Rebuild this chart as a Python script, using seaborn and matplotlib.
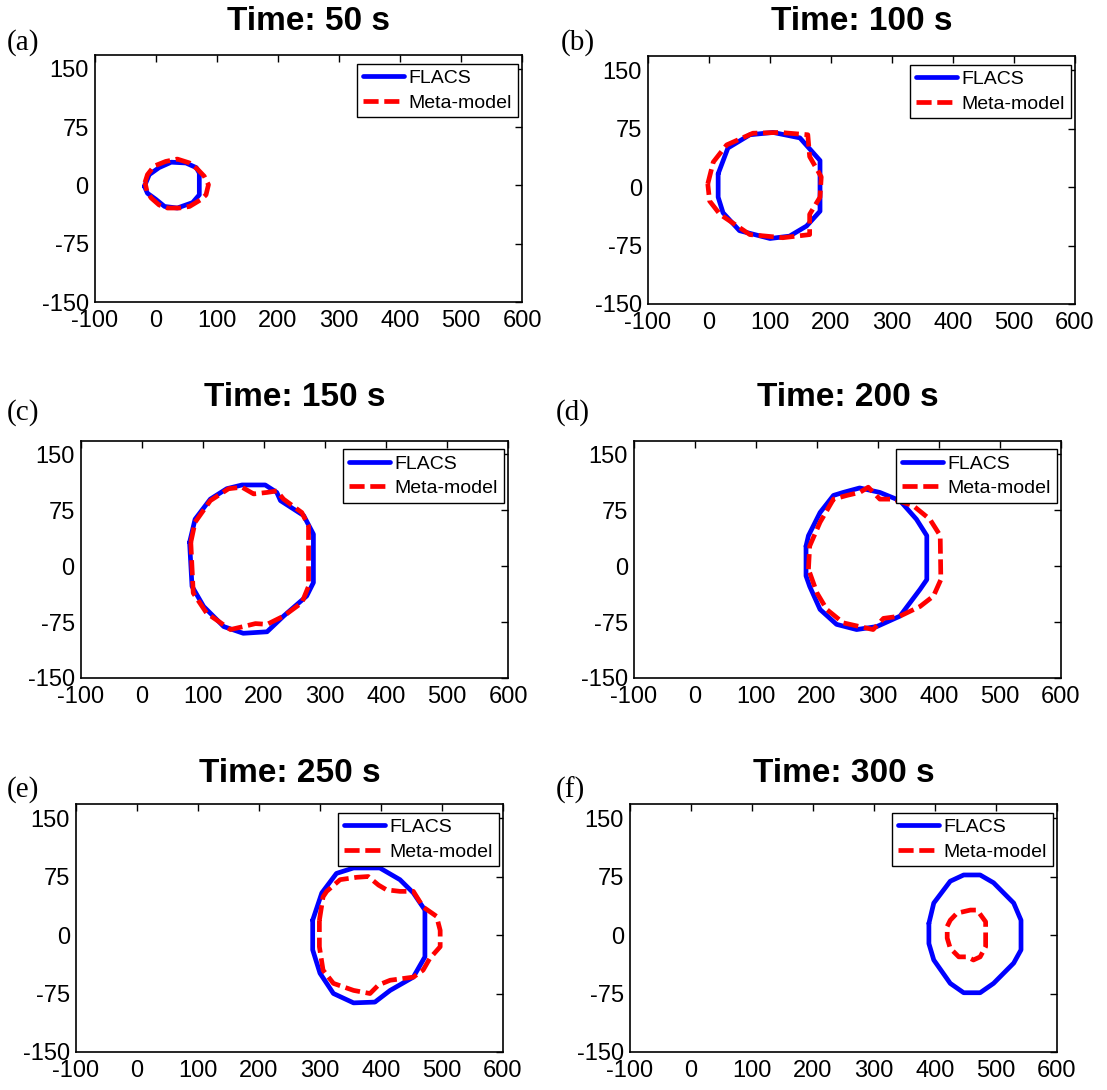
import matplotlib
matplotlib.use("Agg")
import matplotlib.pyplot as plt
import pandas as pd
import seaborn as sns

# ---- plume outlines at each time step (x, y in m) ----
TIMES = [50, 100, 150, 200, 250, 300]
TAGS = ["(a)", "(b)", "(c)", "(d)", "(e)", "(f)"]
SERIES = ["FLACS", "Meta-model"]

FLACS_50_X = [-19, -11, 5, 25, 49, 66, 71, 71, 60, 35, 14, 0, -14]
FLACS_50_Y = [-1, 14, 23, 30, 29, 23, 16, -12, -22, -29, -27, -18, -10]
META_50_X = [-18, -14, -3, 16, 35, 55, 68, 79, 86, 82, 74, 55, 38, 19, 5, -8, -15]
META_50_Y = [4, 14, 25, 31, 34, 29, 21, 12, 1, -12, -18, -27, -29, -29, -25, -16, -7]

FLACS_100_X = [15, 31, 67, 105, 149, 182, 182, 160, 132, 100, 50, 23, 15]
FLACS_100_Y = [17, 50, 67, 70, 63, 34, -31, -50, -63, -66, -56, -33, -13]
META_100_X = [-2, 7, 29, 72, 116, 162, 165, 184, 182, 165, 165, 121, 67, 18, 1]
META_100_Y = [4, 32, 54, 69, 70, 67, 39, 13, -13, -35, -61, -65, -61, -35, -18]

FLACS_150_X = [78, 87, 112, 139, 164, 202, 221, 227, 265, 281, 281, 270, 232, 205, 166, 134, 101, 82]
FLACS_150_Y = [32, 63, 90, 104, 109, 109, 99, 88, 68, 43, -22, -40, -67, -88, -90, -81, -54, -27]
META_150_X = [80, 87, 112, 142, 164, 183, 205, 221, 232, 262, 273, 273, 262, 232, 205, 186, 166, 145, 106, 84]
META_150_Y = [32, 59, 88, 104, 106, 97, 99, 101, 90, 72, 54, -27, -49, -67, -78, -77, -81, -85, -63, -36]

FLACS_200_X = [182, 186, 205, 227, 243, 270, 303, 336, 363, 380, 380, 369, 336, 298, 265, 232, 205, 188, 182]
FLACS_200_Y = [27, 41, 72, 95, 99, 105, 99, 88, 63, 41, -18, -31, -67, -81, -85, -78, -58, -27, -13]
META_200_X = [186, 188, 205, 227, 249, 270, 284, 303, 325, 358, 385, 402, 403, 391, 369, 336, 309, 292, 270, 243, 216, 200]
META_200_Y = [-4, 27, 59, 90, 95, 99, 106, 90, 90, 81, 63, 41, -18, -40, -54, -67, -70, -85, -81, -76, -58, -36]

FLACS_250_X = [288, 303, 327, 355, 398, 431, 453, 472, 472, 453, 415, 390, 355, 322, 300, 288]
FLACS_250_Y = [19, 54, 79, 86, 86, 71, 54, 32, -28, -54, -71, -86, -87, -75, -49, -19]
META_250_X = [299, 305, 311, 333, 360, 379, 396, 409, 431, 453, 469, 491, 497, 497, 480, 469, 453, 415, 396, 382, 355, 322, 305, 299]
META_250_Y = [19, 49, 56, 71, 74, 75, 64, 58, 56, 56, 36, 24, 6, -15, -30, -45, -54, -58, -64, -75, -71, -62, -45, -15]

FLACS_300_X = [390, 398, 425, 447, 474, 496, 529, 541, 541, 529, 496, 474, 447, 425, 398, 390]
FLACS_300_Y = [15, 41, 69, 77, 77, 67, 41, 19, -19, -36, -62, -74, -74, -62, -32, -11]
META_300_X = [420, 425, 436, 458, 469, 483, 483, 474, 463, 453, 439, 425, 420]
META_300_Y = [11, 19, 28, 32, 32, 17, -15, -28, -32, -28, -28, -17, -4]

OUTLINES = {
    50: (FLACS_50_X, FLACS_50_Y, META_50_X, META_50_Y),
    100: (FLACS_100_X, FLACS_100_Y, META_100_X, META_100_Y),
    150: (FLACS_150_X, FLACS_150_Y, META_150_X, META_150_Y),
    200: (FLACS_200_X, FLACS_200_Y, META_200_X, META_200_Y),
    250: (FLACS_250_X, FLACS_250_Y, META_250_X, META_250_Y),
    300: (FLACS_300_X, FLACS_300_Y, META_300_X, META_300_Y),
}

X_TICKS = [-100, 0, 100, 200, 300, 400, 500, 600]
Y_TICKS = [-150, -75, 0, 75, 150]

# ---- figure layout (pixel boxes: left, right, top, bottom) ----
W, H = 1107, 1090
BOXES = [
    (95, 522, 55, 302), (648, 1075, 56, 304),
    (81, 508, 441, 678), (634, 1061, 441, 678),
    (76, 503, 804, 1052), (630, 1057, 804, 1052),
]
TITLE_Y = [21, 21, 397, 397, 773, 773]
TAG_XY = [(7, 43), (561, 43), (7, 413), (556, 413), (7, 790), (556, 790)]

sns.set_theme(style="white")
plt.rcParams["font.family"] = ["Liberation Sans", "DejaVu Sans"]
plt.rcParams["axes.unicode_minus"] = False
plt.rcParams["text.color"] = "black"

fig = plt.figure(figsize=(W / 100, H / 100), dpi=100)


def closed(xs, ys):
    return pd.DataFrame({"x": list(xs) + [xs[0]], "y": list(ys) + [ys[0]]})


for i, t in enumerate(TIMES):
    l, r, top, b = BOXES[i]
    ax = fig.add_axes([l / W, 1 - b / H, (r - l) / W, (b - top) / H])
    fx, fy, mx, my = OUTLINES[t]
    sns.lineplot(data=closed(fx, fy), x="x", y="y", sort=False, estimator=None,
                 color="#0000ff", lw=3.4, ax=ax, label=SERIES[0])
    sns.lineplot(data=closed(mx, my), x="x", y="y", sort=False, estimator=None,
                 color="#ff0000", lw=3.4, linestyle=(0, (3.2, 1.2)), ax=ax,
                 label=SERIES[1])
    ax.set_xlim(-100, 600)
    ax.set_ylim(-150, 168)
    ax.set_xticks(X_TICKS)
    ax.set_yticks(Y_TICKS)
    ax.set_xlabel("")
    ax.set_ylabel("")
    ax.tick_params(direction="in", length=5, width=1, top=True, right=True,
                   labelsize=17, colors="black")
    ax.tick_params(axis="x", pad=5.5)
    ax.tick_params(axis="y", pad=4.5)
    for s in ax.spines.values():
        s.set_color("black")
        s.set_linewidth(1.2)
    leg = ax.legend(loc="upper right", bbox_to_anchor=(0.99, 0.965),
                    borderaxespad=0, fontsize=14, frameon=True, fancybox=False,
                    edgecolor="black", framealpha=1, handlelength=2.1,
                    handletextpad=0.25, borderpad=0.3, labelspacing=0.35)
    leg.get_frame().set_linewidth(1.0)
    fig.text((l + r) / 2 / W, 1 - TITLE_Y[i] / H, f"Time: {t} s",
             ha="center", va="center", fontsize=24, fontweight="bold",
             color="black")
    tx, ty = TAG_XY[i]
    fig.text(tx / W, 1 - ty / H, TAGS[i], ha="left", va="center",
             fontsize=21, color="black",
             family=["Liberation Serif", "DejaVu Serif"])

fig.savefig("out.png", dpi=100, facecolor="white")
